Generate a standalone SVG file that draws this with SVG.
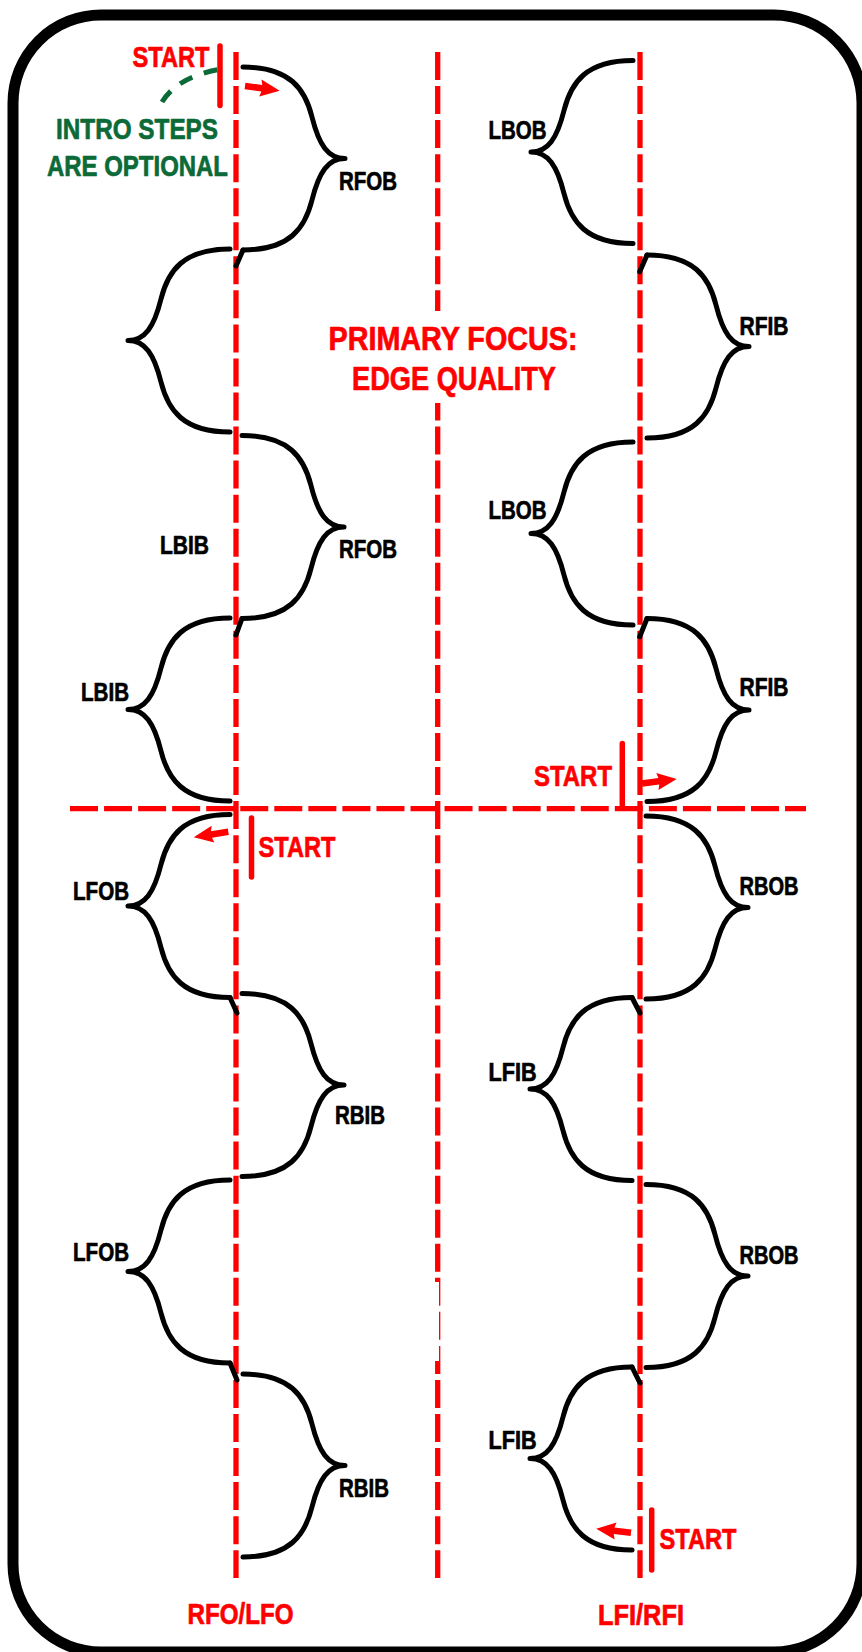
<svg xmlns="http://www.w3.org/2000/svg" width="862" height="1652" viewBox="0 0 862 1652">
<style>
.brace{fill:none;stroke:#000;stroke-width:5;stroke-linecap:round;stroke-linejoin:round}
.hook{fill:none;stroke:#000;stroke-width:5;stroke-linecap:round;stroke-linejoin:round}
.guide{fill:none;stroke:#f00;stroke-width:5.3;stroke-dasharray:28 6.05}
.bar{fill:none;stroke:#f00;stroke-width:5.5;stroke-linecap:round}
.arrow{fill:#f00}
text{font-family:"Liberation Sans Narrow","Liberation Sans",Arial,sans-serif;font-weight:bold;stroke-width:0.7;stroke-linejoin:round}
.lbl{font-size:26px;fill:#000;stroke:#000}
.start{font-size:30px;fill:#f00;stroke:#f00}
.focus{font-size:33.5px;fill:#f00;stroke:#f00}
.intro{font-size:29.5px;fill:#0b6a38;stroke:#0b6a38}
.axis{font-size:29.7px;fill:#f00;stroke:#f00}
</style>
<defs>
<path id="braceR" class="brace" d="M0,0 C47,0 62,22 69,50 C76,78 85,91.5 102,91.5 C85,91.5 76,105 69,133 C62,161 47,183 0,183"/>
<path id="arr" d="M0,-3.3 L17,-3.3 L15.5,-8.5 L35,0 L15.5,8.5 L17,3.3 L0,3.3 Z"/>
</defs>
<rect x="0" y="0" width="862" height="1652" fill="#fff"/>
<g id="frame">
<rect x="13" y="15" width="849" height="1637" rx="88" ry="88" fill="none" stroke="#000" stroke-width="11"/>
</g>
<g id="connectors">
<path class="guide" d="M236,52 V1578"/>
<path class="guide" d="M437.7,52 V1578"/>
<path class="guide" d="M640,52 V1578"/>
<path class="guide" d="M70,808.7 H806"/>
<rect x="425" y="311" width="25" height="92" fill="#fff"/>
<rect x="434" y="1282" width="5" height="79" fill="#fff"/>
</g>
<g id="focus">
<text class="focus" x="328.5" y="350" textLength="249" lengthAdjust="spacingAndGlyphs">PRIMARY FOCUS:</text>
<text class="focus" x="352" y="390" textLength="204" lengthAdjust="spacingAndGlyphs">EDGE QUALITY</text>
</g>
<g id="b1"><use href="#braceR" transform="translate(243,67)"/><path class="hook" d="M243,250 L236,266"/><text class="lbl" x="339" y="190" textLength="58" lengthAdjust="spacingAndGlyphs">RFOB</text></g>
<g id="b2"><use href="#braceR" transform="translate(230,249) scale(-1,1)"/></g>
<g id="b3"><use href="#braceR" transform="translate(242,435.5)"/><path class="hook" d="M242,618.5 L236,635"/><text class="lbl" x="339" y="558" textLength="58" lengthAdjust="spacingAndGlyphs">RFOB</text></g>
<g id="lbib-free"><text class="lbl" x="160" y="554" textLength="49" lengthAdjust="spacingAndGlyphs">LBIB</text></g>
<g id="b4"><use href="#braceR" transform="translate(230,618) scale(-1,1)"/><text class="lbl" x="81" y="700.5" textLength="48" lengthAdjust="spacingAndGlyphs">LBIB</text></g>
<g id="b5"><use href="#braceR" transform="translate(230,814.5) scale(-1,1)"/><path class="hook" d="M230,997.5 L237,1013"/><text class="lbl" x="73" y="900" textLength="56" lengthAdjust="spacingAndGlyphs">LFOB</text></g>
<g id="b6"><use href="#braceR" transform="translate(242,993.5)"/><text class="lbl" x="335" y="1124" textLength="50" lengthAdjust="spacingAndGlyphs">RBIB</text></g>
<g id="b7"><use href="#braceR" transform="translate(230,1180) scale(-1,1)"/><path class="hook" d="M230,1363 L237,1380"/><text class="lbl" x="73" y="1261" textLength="56" lengthAdjust="spacingAndGlyphs">LFOB</text></g>
<g id="b8"><use href="#braceR" transform="translate(243,1374)"/><text class="lbl" x="339" y="1497" textLength="50" lengthAdjust="spacingAndGlyphs">RBIB</text></g>
<g id="r1"><use href="#braceR" transform="translate(633,60.5) scale(-1,1)"/><text class="lbl" x="488.5" y="139.3" textLength="58" lengthAdjust="spacingAndGlyphs">LBOB</text></g>
<g id="r2"><use href="#braceR" transform="translate(647,255)"/><path class="hook" d="M647,255 L639.7,271.7"/><text class="lbl" x="739.5" y="335" textLength="49" lengthAdjust="spacingAndGlyphs">RFIB</text></g>
<g id="r3"><use href="#braceR" transform="translate(633,442) scale(-1,1)"/><text class="lbl" x="488.5" y="519.3" textLength="58" lengthAdjust="spacingAndGlyphs">LBOB</text></g>
<g id="r4"><use href="#braceR" transform="translate(647,618.5)"/><path class="hook" d="M647,618.5 L639.7,636.7"/><text class="lbl" x="739.5" y="696" textLength="49" lengthAdjust="spacingAndGlyphs">RFIB</text></g>
<g id="r5"><use href="#braceR" transform="translate(646,816)"/><text class="lbl" x="739.5" y="895" textLength="59" lengthAdjust="spacingAndGlyphs">RBOB</text></g>
<g id="r6"><use href="#braceR" transform="translate(632,997.5) scale(-1,1)"/><path class="hook" d="M632,997.5 L640,1013"/><text class="lbl" x="488.5" y="1081" textLength="48" lengthAdjust="spacingAndGlyphs">LFIB</text></g>
<g id="r7"><use href="#braceR" transform="translate(646,1184.5)"/><text class="lbl" x="739.5" y="1264" textLength="59" lengthAdjust="spacingAndGlyphs">RBOB</text></g>
<g id="r8"><use href="#braceR" transform="translate(632,1367) scale(-1,1)"/><path class="hook" d="M632,1367 L640,1383"/><text class="lbl" x="488.5" y="1449.3" textLength="48" lengthAdjust="spacingAndGlyphs">LFIB</text></g>
<g id="start-top">
<line class="bar" x1="220" y1="46" x2="220" y2="105.6"/>
<use href="#arr" class="arrow" transform="translate(245,86) rotate(7.6)"/>
<text class="start" x="132.5" y="66.7" textLength="77" lengthAdjust="spacingAndGlyphs">START</text>
</g>
<g id="intro-note">
<path d="M162,102 Q178,76 222,69" fill="none" stroke="#0b6a38" stroke-width="5" stroke-dasharray="14 12"/>
<text class="intro" x="56" y="139.3" textLength="162" lengthAdjust="spacingAndGlyphs">INTRO STEPS</text>
<text class="intro" x="47" y="176" textLength="181" lengthAdjust="spacingAndGlyphs">ARE OPTIONAL</text>
</g>
<g id="start-mid">
<line class="bar" x1="622.3" y1="743.5" x2="622.3" y2="807"/>
<use href="#arr" class="arrow" transform="translate(642,783.5) rotate(-7.5)"/>
<text class="start" x="534" y="786" textLength="78" lengthAdjust="spacingAndGlyphs">START</text>
</g>
<g id="start-left">
<line class="bar" x1="251.5" y1="818" x2="251.5" y2="877"/>
<use href="#arr" class="arrow" transform="translate(228.3,831.7) rotate(170.9)"/>
<text class="start" x="258.5" y="856.7" textLength="77" lengthAdjust="spacingAndGlyphs">START</text>
</g>
<g id="start-bottom">
<line class="bar" x1="651.7" y1="1510" x2="651.7" y2="1570"/>
<use href="#arr" class="arrow" transform="translate(631,1532.7) rotate(186.5)"/>
<text class="start" x="659.5" y="1549.3" textLength="77" lengthAdjust="spacingAndGlyphs">START</text>
</g>
<g id="axis-labels">
<text class="axis" x="187.5" y="1624" textLength="106" lengthAdjust="spacingAndGlyphs">RFO/LFO</text>
<text class="axis" x="598" y="1625" textLength="86" lengthAdjust="spacingAndGlyphs">LFI/RFI</text>
</g>
</svg>
